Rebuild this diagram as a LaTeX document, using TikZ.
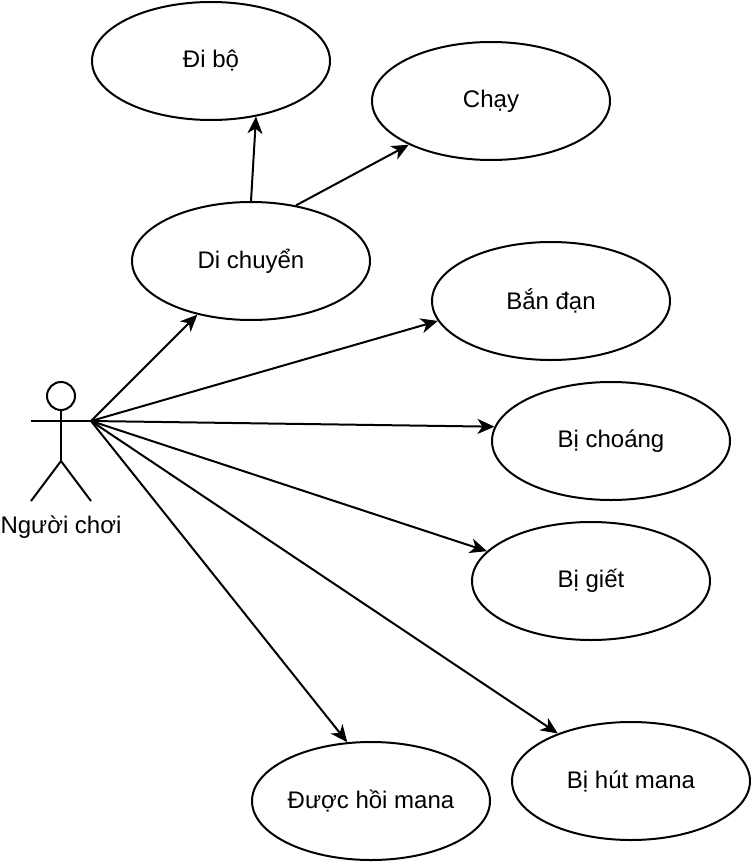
\documentclass[tikz,border=0pt]{standalone}
\usepackage{fontspec}
\setmainfont{Liberation Sans}
\usetikzlibrary{shapes.geometric,arrows.meta,positioning}

\begin{document}
\begin{tikzpicture}[
    x=1pt, y=-1pt,
    usecase/.style={draw, ellipse, line width=2pt, minimum width=238pt, minimum height=118pt, inner sep=0pt, font=\fontsize{24}{28}\selectfont},
    actorline/.style={line width=2pt},
    arrow/.style={-{Stealth[length=17pt,width=15pt,inset=5pt]}, line width=2pt}
]
\useasboundingbox (0,0) rectangle (752,864);

% Use cases
\node[usecase] (walk) at (211,61) {Đi bộ};
\node[usecase] (run) at (491,101) {Chạy};
\node[usecase] (move) at (251,261) {Di chuyển};
\node[usecase] (shoot) at (551,301) {Bắn đạn};
\node[usecase] (stun) at (611,441) {Bị choáng};
\node[usecase] (killed) at (591,581) {Bị giết};
\node[usecase] (drain) at (631,781) {Bị hút mana};
\node[usecase] (regen) at (371,801) {Được hồi mana};

% Actor
\node[draw, circle, line width=2pt, minimum size=28pt, inner sep=0pt] (head) at (61,396) {};
\coordinate (hip) at (61,461);
\coordinate (hand) at (91,421);
\draw[actorline] (head.south) -- (hip);
\draw[actorline] (31,421) -- (hand);
\draw[actorline] (31,501) -- (hip) -- (91,501);
\node[font=\fontsize{24}{28}\selectfont] (player) at (61,527) {Người chơi};

% Arrows
\draw[arrow] (move.north) -- (walk.-51);
\draw[arrow] (move.51) -- (run.208);
\draw[arrow] (hand) -- (move.225);
\draw[arrow] (hand) -- (shoot.190);
\draw[arrow] (hand) -- (stun.173);
\draw[arrow] (hand) -- (killed.164);
\draw[arrow] (hand) -- (regen.112);
\draw[arrow] (hand) -- (drain.147);
\end{tikzpicture}
\end{document}
